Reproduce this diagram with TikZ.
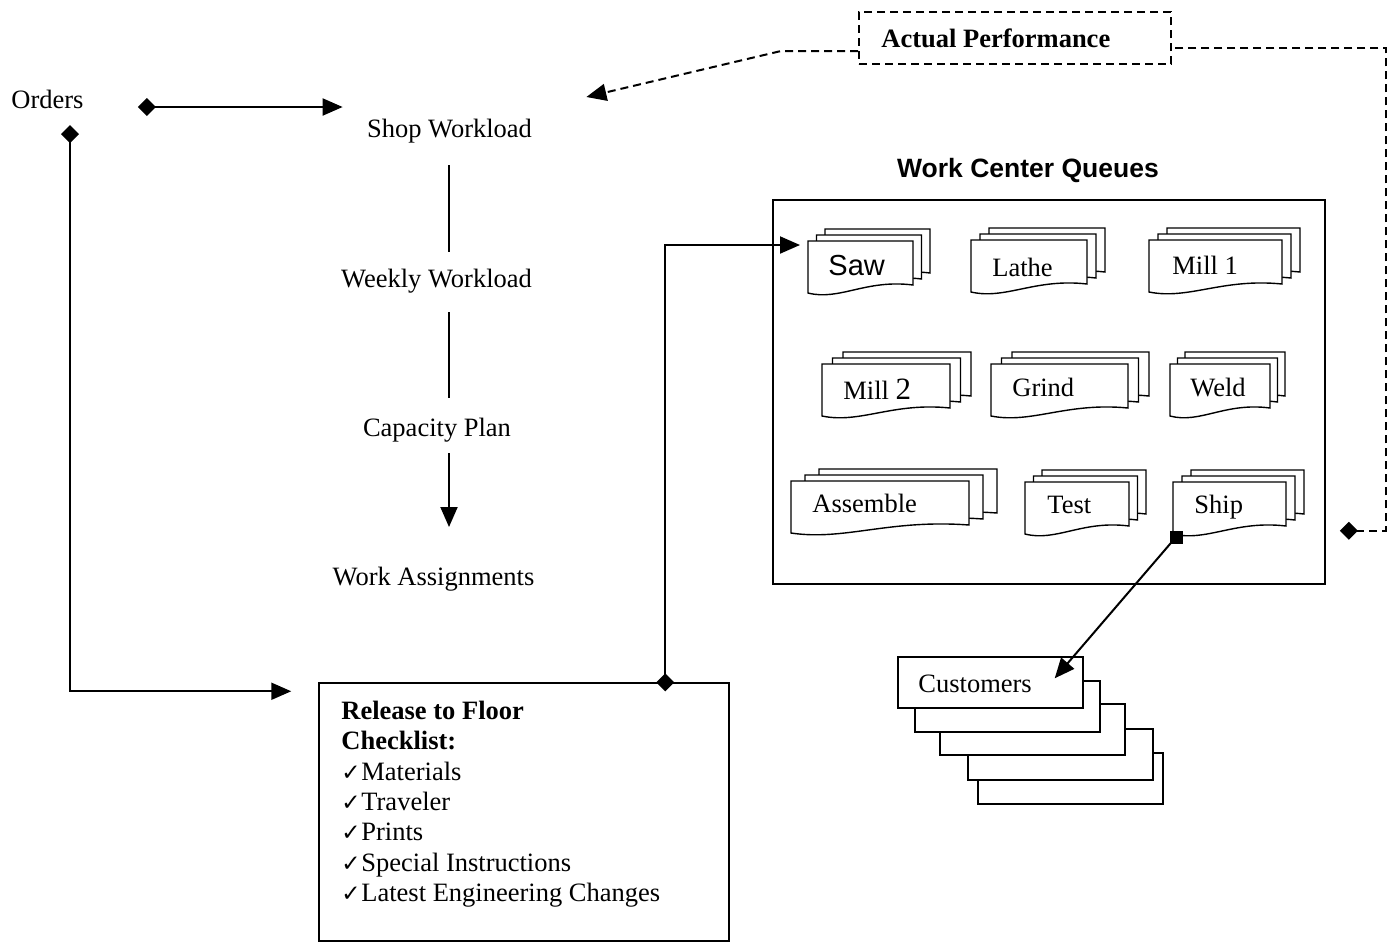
\documentclass[tikz,border=0pt]{standalone}
\usepackage{fontspec}
\setmainfont{Liberation Serif}
\setsansfont{Liberation Sans}
\newfontfamily\checkfont{DejaVu Sans}
\usetikzlibrary{arrows.meta,fit,calc}

\tikzset{
  lbl/.style={font=\fontsize{13.25}{15.2}\selectfont, inner sep=0pt},
  blbl/.style={font=\bfseries\fontsize{13.25}{15.2}\selectfont, inner sep=0pt},
  conn/.style={line width=1pt},
  dashconn/.style={line width=1pt, dash pattern=on 4pt off 2.5pt},
  tri/.tip={Triangle[length=10pt,width=8.5pt]},
  dia/.tip={Diamond[length=9pt,width=9pt]},
  docpage/.style={fill=white, draw=black, line width=0.7pt, line join=miter},
  frame/.style={draw=black, line width=0.75pt, inner sep=0pt},
}

% A queue of three stacked documents with a wavy lower edge.
% #1 name, #2 x, #3 y (front page top-left), #4 width, #5 step to the right,
% #6 label x, #7 label baseline, #8 label text
\newcommand{\docstack}[8]{%
  \foreach \k in {2,1,0}{%
    \filldraw[docpage, shift={({\k*#5},{-\k*6})}]
      (#2,{#3+52}) -- (#2,#3) -- ({#2+#4},#3) -- ({#2+#4},{#3+44})
      .. controls ({#2+0.55*#4},{#3+38}) and ({#2+0.3*#4},{#3+60}) .. (#2,{#3+52}) -- cycle;
  }
  \coordinate (#1-nw) at (#2,#3);
  \coordinate (#1-sw) at (#2,{#3+52});
  \node[lbl, anchor=base west] (#1) at (#6,#7) {#8};
}

\newcommand{\ckmark}{\makebox[10pt][l]{\checkfont\fontsize{11.5}{11.5}\selectfont ✓}}

\begin{document}
\begin{tikzpicture}[x=0.5pt,y=-0.5pt]
\useasboundingbox (0,0) rectangle (1395,943);

% left column
\node[lbl, anchor=base west] (orders) at (11,108) {Orders};
\node[lbl, anchor=base] (shop) at (449.5,137) {Shop Workload};
\node[lbl, anchor=base] (weekly) at (436.5,287) {Weekly Workload};
\node[lbl, anchor=base] (capacity) at (437,436) {Capacity Plan};
\node[lbl, anchor=base] (assign) at (433.5,585) {Work Assignments};

% release checklist
\node[fit={(319,683)(729,941)}, frame] (check) {};
\node[blbl, anchor=base west] (ck1) at (341,719) {Release to Floor};
\node[blbl, anchor=base west] (ck2) at (341,749.5) {Checklist:};
\node[lbl, anchor=base west] (ck3) at (341,780) {\ckmark Materials};
\node[lbl, anchor=base west] (ck4) at (341,810) {\ckmark Traveler};
\node[lbl, anchor=base west] (ck5) at (341,840.5) {\ckmark Prints};
\node[lbl, anchor=base west] (ck6) at (341,871) {\ckmark Special Instructions};
\node[lbl, anchor=base west] (ck7) at (341,901) {\ckmark Latest Engineering Changes};

% actual performance
\node[fit={(859,12)(1171,64)}, draw=black, dashconn, inner sep=0pt] (perf) {};
\node[blbl, anchor=base west] (perflbl) at (881,47) {Actual Performance};

% work center queues
\node[font=\sffamily\bfseries\fontsize{13.25}{15.2}\selectfont, inner sep=0pt, anchor=base] (wcq) at (1028,177) {Work Center Queues};
\node[fit={(773,200)(1325,584)}, frame] (queues) {};

\docstack{saw}{808}{241}{105}{8.5}{828}{275}{\sffamily\fontsize{14.5}{16}\selectfont Saw}
\docstack{lathe}{971}{240}{116}{9}{992}{276}{Lathe}
\docstack{mill1}{1149}{240}{133}{9}{1172}{274}{Mill 1}
\docstack{mill2}{822}{364}{128}{10.5}{843}{399}{Mill {\fontsize{15.5}{16}\selectfont 2}}
\docstack{grind}{991}{364}{137}{10.5}{1012}{396}{Grind}
\docstack{weld}{1170}{364}{100}{7.5}{1190}{396}{Weld}
\docstack{assemble}{791}{481}{178}{14}{812}{512}{Assemble}
\docstack{test}{1025}{482}{104}{8.5}{1047}{513}{Test}
\docstack{ship}{1173}{482}{113}{9}{1194}{513}{Ship}

% customers
\foreach \x/\y in {978/753, 968/729, 940/704, 915/681}{%
  \filldraw[docpage] (\x,\y) rectangle ({\x+185},{\y+51});
}
\node[fit={(898,657)(1083,708)}, frame, fill=white, line width=0.7pt] (cust) {};
\node[lbl, anchor=base west] (custlbl) at (918,692) {Customers};

% connectors
\draw[conn, {dia}-{tri}] ($(orders.base east)+(54,-1)$) -- ($(shop.base west)+(-24,-30)$);
\draw[conn, {dia}-{tri}] ($(orders.base west)+(59,17)$) |- ($(check.north west)+(-27,9)$);
\draw[conn] ($(shop.base)+(-0.5,28)$) -- ($(weekly.base)+(12.5,-35)$);
\draw[conn] ($(weekly.base)+(12.5,25)$) -- ($(capacity.base)+(12,-38)$);
\draw[conn, -{tri}] ($(capacity.base)+(12,17)$) -- ($(assign.base)+(15.5,-58)$);
\draw[conn, {dia}-{tri}] ($(check.north west)+(347,9)$) |- ($(saw-nw)+(-8,4)$);
\draw[dashconn, -{tri}] ($(perf.south west)+(0,-14)$) -- ($(perf.south west)+(-77,-14)$) -- ($(shop.base east)+(54,-40)$);
\draw[dashconn, {dia}-] ($(queues.south east)+(14,-54)$) -| ($(perf.north east)+(214,37)$) -- ($(perf.north east)+(0,37)$);
\coordinate (shipout) at ($(ship-sw)+(3,3)$);
\draw[conn, -{tri}] (shipout) -- ($(cust.north east)+(-29,22)$);
\fill (shipout) +(-6.5,-6.5) rectangle +(6.5,6.5);
\end{tikzpicture}
\end{document}
